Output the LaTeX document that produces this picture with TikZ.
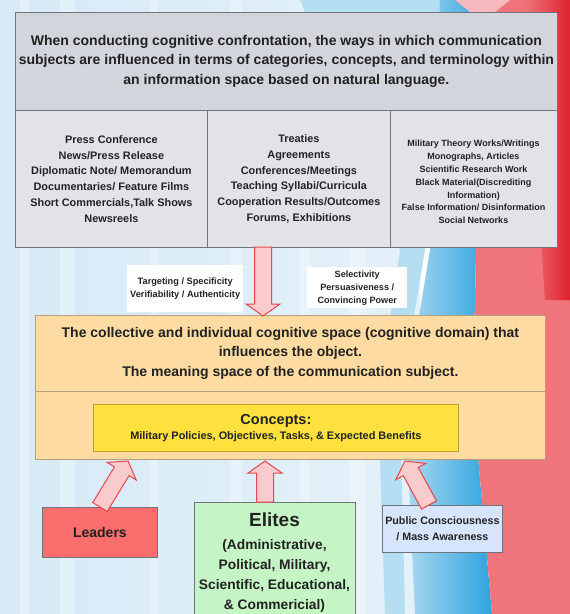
\documentclass[tikz,border=0pt]{standalone}
\usepackage{fontspec}
\setmainfont{Liberation Sans}
\usetikzlibrary{calc}
\definecolor{hdrgray}{HTML}{D2D5DB}
\definecolor{colgray}{HTML}{E1E3E7}
\definecolor{bordgray}{HTML}{70757C}
\definecolor{orangefill}{HTML}{FDDBA2}
\definecolor{orangebord}{HTML}{B8A07A}
\definecolor{yellowfill}{HTML}{FEE03F}
\definecolor{yellowbord}{HTML}{B9A230}
\definecolor{leaderred}{HTML}{FA6E6E}
\definecolor{elitegreen}{HTML}{C5F5C5}
\definecolor{publicblue}{HTML}{D7E5FC}
\definecolor{arrfill}{HTML}{F9CBCD}
\definecolor{arrdraw}{HTML}{E8464C}
\definecolor{txt}{HTML}{222222}
\definecolor{bgleft}{HTML}{D6EAF6}
\definecolor{bgright}{HTML}{E4F1F9}
\definecolor{flagblue}{HTML}{2EA2DD}
\definecolor{flagred}{HTML}{EF747B}
\definecolor{deepred}{HTML}{E0222C}
\tikzset{
  box/.style={draw=bordgray, line width=0.8pt, anchor=north west, inner sep=0pt, align=center, text=txt, font=\bfseries},
  lbl/.style={fill=white, anchor=north west, inner sep=0pt, align=center, text=txt, font=\bfseries},
  barrow/.style={fill=arrfill, draw=arrdraw, line width=1pt, line join=miter}
}
\newcommand{\blockarr}[3]{%
  \coordinate (#3) at ($(#2)!12pt!(#1)$);
  \draw[barrow] ($(#1)!8.5pt!90:(#2)$) -- ($(#3)!8.5pt!90:(#2)$) -- ($(#3)!17pt!90:(#2)$) -- (#2)
    -- ($(#3)!17pt!-90:(#2)$) -- ($(#3)!8.5pt!-90:(#2)$) -- ($(#1)!8.5pt!-90:(#2)$) -- cycle;}
\begin{document}
\begin{tikzpicture}[x=1pt,y=-1pt]
% background
\useasboundingbox (0,0) rectangle (570,614);
\shade[left color=bgleft, right color=bgright] (0,0) rectangle (420,614);
\foreach \sx/\sw in {20/10, 60/14, 150/8, 230/12, 300/10, 350/16}{
  \fill[white, opacity=0.3] (\sx,0) rectangle ++(\sw,614);}
\fill[flagblue!35] (300,0) -- (460,0) -- (425,250) -- (400,400) -- (405,614) -- (385,614) -- (378,400) -- (400,250) -- cycle;
\shade[left color=flagblue!40, right color=flagblue] (440,0) -- (485,0) -- (476,250) -- (473,400) -- (492,614) -- (415,614) -- (405,400) -- (430,250) -- cycle;
\fill[flagred] (485,0) -- (570,0) -- (570,614) -- (492,614) -- (473,400) -- (476,250) -- cycle;
\fill[flagred!50] (455,0) -- (510,0) -- (495,12) -- (470,12) -- cycle;
\shade[left color=flagred, right color=deepred] (525,0) -- (570,0) -- (570,300) -- (545,300) -- cycle;
% top box
\node[box, fill=hdrgray, minimum width=542, minimum height=98, font=\bfseries\fontsize{14}{19.6}\selectfont] (hdr) at (15,12)
  {When conducting cognitive confrontation, the ways in which communication\\subjects are influenced in terms of categories, concepts, and terminology within\\an information space based on natural language.};
\node[box, fill=colgray, minimum width=192, minimum height=137, font=\bfseries\fontsize{10.9}{15.8}\selectfont] (c1) at (15,110)
  {Press Conference\\News/Press Release\\Diplomatic Note/ Memorandum\\Documentaries/ Feature Films\\Short Commercials,Talk Shows\\Newsreels};
\node[box, fill=colgray, minimum width=183, minimum height=137, font=\bfseries\fontsize{10.9}{15.8}\selectfont] (c2) at (207,110)
  {Treaties\\Agreements\\Conferences/Meetings\\Teaching Syllabi/Curricula\\Cooperation Results/Outcomes\\Forums, Exhibitions};
\node[box, fill=colgray, minimum width=167, minimum height=137] (c3) at (390,110) {};
\node[text=txt, align=center, inner sep=0pt, font=\bfseries\fontsize{9}{12.8}\selectfont] (c3txt) at (473.5,182)
  {Military Theory Works/Writings\\Monographs, Articles\\Scientific Research Work\\Black Material(Discrediting\\Information)\\False Information/ Disinformation\\Social Networks};
% labels
\node[lbl, minimum width=116, minimum height=47, font=\bfseries\fontsize{9.2}{12.5}\selectfont] (lab1) at (127,265)
  {Targeting / Specificity\\Verifiability / Authenticity};
\node[lbl, minimum width=100, minimum height=41, font=\bfseries\fontsize{9.1}{13}\selectfont] (lab2) at (307,267)
  {Selectivity\\Persuasiveness /\\Convincing Power};
% orange box
\node[box, draw=orangebord, fill=orangefill, minimum width=510, minimum height=76, font=\bfseries\fontsize{14}{19.7}\selectfont] (org1) at (35,315)
  {The collective and individual cognitive space (cognitive domain) that\\influences the object.\\The meaning space of the communication subject.};
\node[box, draw=orangebord, fill=orangefill, minimum width=510, minimum height=68] (org2) at (35,391) {};
\node[box, draw=yellowbord, fill=yellowfill, minimum width=365, minimum height=47] (yel) at (93,404)
  {{\fontsize{14.5}{18}\selectfont Concepts:}\\[3pt]{\fontsize{10.9}{13}\selectfont Military Policies, Objectives, Tasks, \& Expected Benefits}};
% bottom boxes
\node[box, fill=leaderred, minimum width=115, minimum height=50, font=\bfseries\fontsize{14}{16}\selectfont] (ldr) at (42,507) {Leaders};
\node[box, fill=elitegreen, minimum width=161, minimum height=125, anchor=north west] (eli) at (194,502) {};
\node[text=txt, align=center, anchor=north, inner sep=0pt, font=\bfseries\fontsize{13.8}{20}\selectfont] (elitxt) at (274.5,513)
  {{\fontsize{19}{22}\selectfont Elites}\\[3pt](Administrative,\\Political, Military,\\Scientific, Educational,\\\& Commericial)};
\node[box, fill=publicblue, minimum width=120, minimum height=47, font=\bfseries\fontsize{10.7}{16}\selectfont] (pub) at (382,505)
  {Public Consciousness\\/ Mass Awareness};
% arrows
\coordinate (d0) at (263,247);
\coordinate (d1) at (263,316);
\blockarr{d0}{d1}{dh}
\coordinate (t1) at (128,461);
\coordinate (t2) at (265,461);
\coordinate (t3) at (405,461);
\coordinate (s1) at (100,507);
\coordinate (s3) at (429,505);
\blockarr{s1}{t1}{h1}
\blockarr{eli.north -| t2}{t2}{h2}
\blockarr{s3}{t3}{h3}
\end{tikzpicture}
\end{document}
